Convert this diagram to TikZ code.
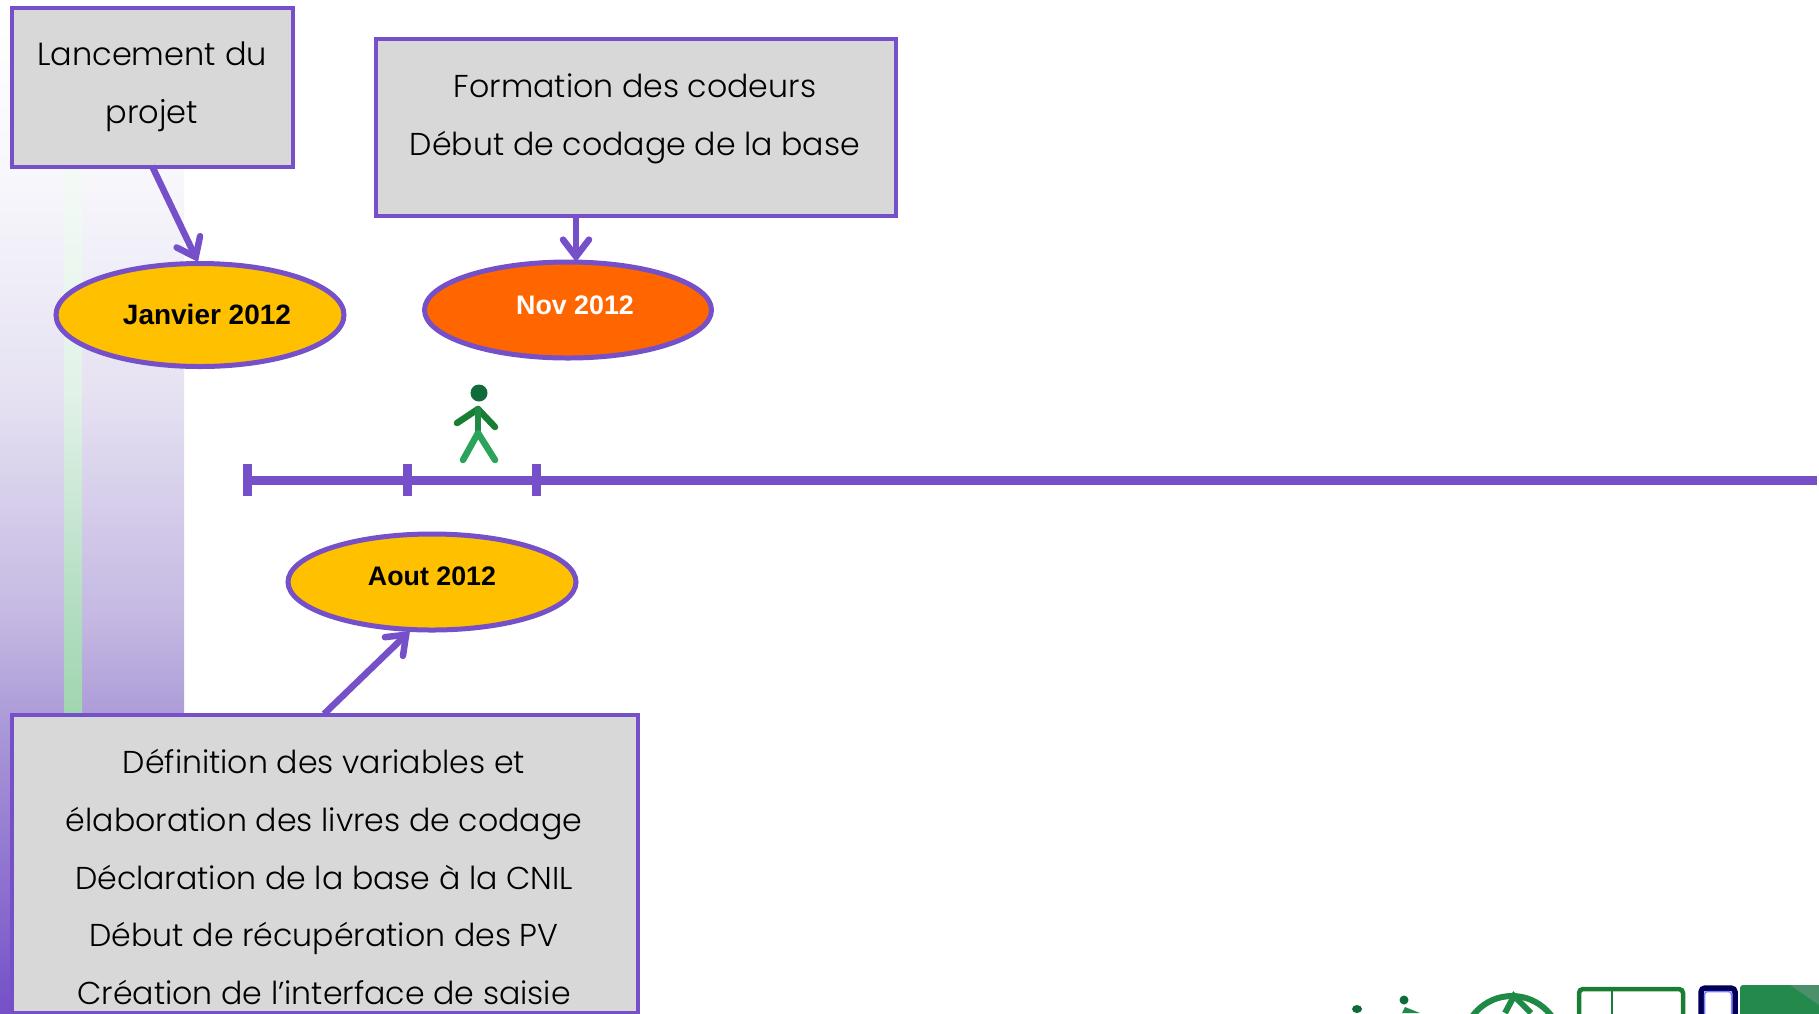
\documentclass[tikz,border=0pt]{standalone}
\usepackage{fontspec}
\setmainfont{Poppins Light}
\newfontfamily\labelfont{Liberation Sans}
\usetikzlibrary{shapes.geometric,arrows.meta}
\definecolor{vio}{HTML}{7550C8}
\definecolor{boxgray}{HTML}{D8D8D8}
\definecolor{amber}{HTML}{FFC000}
\definecolor{orng}{HTML}{FF6600}
\definecolor{grn}{HTML}{1E8A45}
\definecolor{dkgrn}{HTML}{0F6B3A}
\definecolor{legs}{HTML}{2BA35A}
\definecolor{arms}{HTML}{1A7D34}
\definecolor{bandA}{HTML}{F8F8FC}
\definecolor{bandB}{HTML}{E6E2F2}
\definecolor{bandC}{HTML}{C4B8E2}
\definecolor{bandD}{HTML}{AD9CD8}
\definecolor{stripA}{HTML}{F5FBF7}
\definecolor{stripB}{HTML}{E2F2E8}
\definecolor{stripC}{HTML}{B0DCC0}
\definecolor{stripD}{HTML}{A0D5B0}
\pgfdeclareverticalshading{bandshade}{100bp}{color(0bp)=(vio); color(25bp)=(vio); color(39.8bp)=(bandD); color(44.4bp)=(bandC); color(55.75bp)=(bandB); color(66.8bp)=(bandA); color(75bp)=(white); color(100bp)=(white)}
\pgfdeclareverticalshading{stripshade}{100bp}{color(0bp)=(stripD); color(25bp)=(stripD); color(33.3bp)=(stripC); color(53.7bp)=(stripB); color(75bp)=(stripA); color(100bp)=(stripA)}
\tikzset{
  txtbox/.style={draw=vio,line width=4pt,fill=boxgray,inner sep=0pt},
  boxtext/.style={align=center,inner sep=0pt,font=\fontsize{31.6}{57.6}\selectfont,text=black},
  oval/.style={ellipse,draw=vio,line width=5pt,inner sep=0pt},
  ovaltext/.style={font=\labelfont\bfseries\fontsize{26.8}{30}\selectfont},
  link/.style={draw=vio,line width=6.5pt,-{Straight Barb[length=17pt,width=26pt,line cap=round]}},
  axis/.style={draw=vio,line width=9pt},
  man/.style={line width=6.5pt,line cap=round,line join=round}
}
\begin{document}
\begin{tikzpicture}[x=1pt,y=-1pt]
\useasboundingbox (0,0) rectangle (1819,1013);
\fill[white] (0,0) rectangle (1819,1013);
% background band
\shade[shading=bandshade] (0,0) rectangle (184,1013);
\shade[shading=stripshade] (64,150) rectangle (82,714);
% boxes
\node[txtbox,minimum width=281pt,minimum height=159pt,anchor=north west] (lancement) at (10,6) {};
\node[boxtext,font=\fontsize{32}{57.6}\selectfont,anchor=center] (lancementT) at (152,87) {Lancement du\\projet};
\node[txtbox,minimum width=520pt,minimum height=177pt,anchor=north west] (formation) at (374,37) {};
\node[boxtext,anchor=center] (formationT) at (635,119) {Formation des codeurs\\Début de codage de la base};
\node[txtbox,minimum width=626pt,minimum height=298pt,anchor=north west] (definition) at (10,713) {};
\node[boxtext,anchor=center] (definitionT) at (324,877) {Définition des variables et\\élaboration des livres de codage\\Déclaration de la base à la CNIL\\Début de récupération des PV\\Création de l’interface de saisie};
% ovals
\node[oval,fill=amber,minimum width=288pt,minimum height=103pt] (janvier) at (200,315) {};
\node[ovaltext,font=\labelfont\bfseries\fontsize{28}{30}\selectfont] (janvierT) at (207,314) {Janvier 2012};
\node[oval,fill=orng,minimum width=287pt,minimum height=96pt] (nov) at (568,310) {};
\node[ovaltext,text=white] (novT) at (575,305) {Nov 2012};
\node[oval,fill=amber,minimum width=288pt,minimum height=96pt] (aout) at (432,582) {};
\node[ovaltext] (aoutT) at (432,576) {Aout 2012};
% connectors
\coordinate (lancementOut) at (152,166);
\coordinate (janvierIn) at (198,262);
\coordinate (formationOut) at (576,214);
\coordinate (novIn) at (576,262);
\coordinate (definitionOut) at (324,714);
\coordinate (aoutIn) at (410,631);
\draw[link] (lancementOut) -- (janvierIn);
\draw[link] (formationOut) -- (novIn);
\draw[link] (definitionOut) -- (aoutIn);
% timeline
\coordinate (axisStart) at (244,480);
\coordinate (axisEnd) at (1817,480);
\draw[axis] (axisStart) -- (axisEnd);
\draw[axis] (247.5,464) -- (247.5,496);
\draw[axis] (407.5,464) -- (407.5,496);
\draw[axis] (536,464) -- (536,496);
% walker
\fill[dkgrn] (479,393) circle (8.5pt);
\draw[man,arms] (457,423) -- (478,409) -- (495,427);
\draw[man,grn] (478,409) -- (478,433);
\draw[man,legs] (463,460) -- (478,433) -- (495,460);
% bottom-right clipped figures
\begin{scope}
\clip (0,0) rectangle (1819,1013);
\fill[dkgrn] (1357,1009) ellipse (5pt and 4pt);
\fill[dkgrn] (1404,1000) circle (4.5pt);
\fill[grn] (1405,1007) -- (1420,1013) -- (1402,1013) -- cycle;
\draw[grn,line width=6pt] (1512,1045) circle (49pt);
\draw[grn,line width=6pt] (1505,1013) -- (1514,996) -- (1531,1013);
\draw[arms,line width=4.5pt,rounded corners=4pt] (1579,989) rectangle (1683,1030);
\draw[arms,line width=2.5pt] (1612,989) -- (1612,1030);
\draw[black!65!blue,line width=5.5pt,rounded corners=4pt] (1701,988) rectangle (1735,1030);
\draw[blue!50!white,line width=1.5pt,rounded corners=3pt] (1704.5,991.5) rectangle (1731.5,1030);
\fill[legs!85!black,rounded corners=3pt] (1740,985) rectangle (1830,1030);
\fill[dkgrn!75!white] (1790,985) -- (1819,985) -- (1819,1005) -- cycle;
\end{scope}
\end{tikzpicture}
\end{document}
